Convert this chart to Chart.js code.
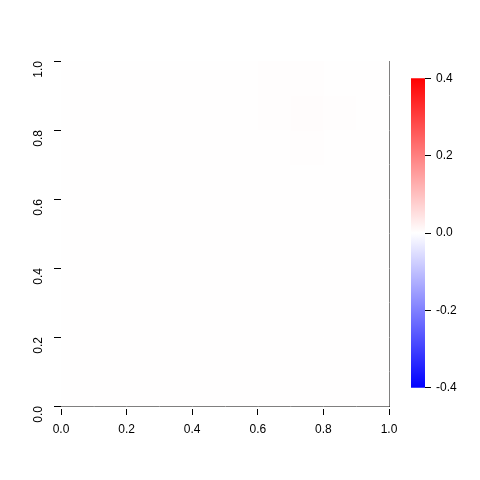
<!DOCTYPE html>
<html>
<head>
<meta charset="utf-8">
<script src="https://cdn.jsdelivr.net/npm/chart.js@4"></script>
<style>
  body { margin: 0; background: #fff; }
  #wrap { position: relative; width: 480px; height: 480px; }
  #main { position: absolute; left: 0; top: 0; }
  #bar { position: absolute; left: 405px; top: 66px; }
</style>
</head>
<body>
<div id="wrap">
  <canvas id="main" width="480" height="480"></canvas>
  <canvas id="bar" width="70" height="334"></canvas>
</div>
<script>
// grid cell centres
const xCenters = [0.05, 0.15, 0.25, 0.35, 0.45, 0.55, 0.65, 0.75, 0.85, 0.95];
const yCenters = [0.05, 0.15, 0.25, 0.35, 0.45, 0.55, 0.65, 0.75, 0.85, 0.95];
// values, row 0 = bottom (y = 0.05)
const zValues = [
  [0.002, 0.002, 0.002, 0.002, 0.002, 0.002, 0.002, 0.002, 0.002, 0.002],
  [0.002, 0.002, 0.002, 0.002, 0.002, 0.002, 0.002, 0.002, 0.002, 0.002],
  [0.002, 0.002, 0.002, 0.002, 0.002, 0.002, 0.002, 0.002, 0.002, 0.002],
  [0.002, 0.002, 0.002, 0.002, 0.002, 0.002, 0.002, 0.002, 0.002, 0.002],
  [0.002, 0.002, 0.002, 0.002, 0.002, 0.002, 0.002, 0.002, 0.002, 0.002],
  [0.002, 0.002, 0.002, 0.002, 0.002, 0.002, 0.002, 0.002, 0.002, 0.002],
  [0.002, 0.002, 0.002, 0.002, 0.002, 0.002, 0.002, 0.002, 0.002, 0.002],
  [0.002, 0.002, 0.002, 0.002, 0.002, 0.002, 0.002, 0.003, 0.002, 0.002],
  [0.002, 0.002, 0.002, 0.002, 0.002, 0.002, 0.003, 0.004, 0.003, 0.002],
  [0.002, 0.002, 0.002, 0.002, 0.002, 0.002, 0.003, 0.003, 0.002, 0.002]
];
const xTicks = [0, 0.2, 0.4, 0.6, 0.8, 1.0];
const yTicks = [0, 0.2, 0.4, 0.6, 0.8, 1.0];
const zRange = [-0.4, 0.4];
const zTicks = [-0.4, -0.2, 0.0, 0.2, 0.4];

const cellW = 0.1, cellH = 0.1;

function zColor(v) {
  const t = Math.max(-1, Math.min(1, v / zRange[1]));
  if (t >= 0) {
    const c = Math.round(255 * (1 - t));
    return 'rgb(255,' + c + ',' + c + ')';
  }
  const c = Math.round(255 * (1 + t));
  return 'rgb(' + c + ',' + c + ',255)';
}

Chart.defaults.font.family = '"Liberation Sans", Arial, sans-serif';
Chart.defaults.font.size = 12;
Chart.defaults.color = '#000';

const cellPlugin = {
  id: 'cells',
  beforeDatasetsDraw(chart) {
    const ctx = chart.ctx;
    const xs = chart.scales.x, ys = chart.scales.y;
    zValues.forEach((row, j) => {
      row.forEach((v, i) => {
        const x0 = xs.getPixelForValue(xCenters[i] - cellW / 2);
        const x1 = xs.getPixelForValue(xCenters[i] + cellW / 2);
        const y0 = ys.getPixelForValue(yCenters[j] + cellH / 2);
        const y1 = ys.getPixelForValue(yCenters[j] - cellH / 2);
        ctx.fillStyle = zColor(v);
        ctx.fillRect(x0, y0, x1 - x0 + 0.5, y1 - y0 + 0.5);
      });
    });
  }
};

const fmt = v => Number(v).toFixed(1);

new Chart(document.getElementById('main'), {
  type: 'scatter',
  data: { datasets: [{ data: [] }] },
  options: {
    responsive: false,
    animation: false,
    layout: { padding: { left: 0, right: 91, top: 61, bottom: 0 } },
    plugins: { legend: { display: false }, tooltip: { enabled: false } },
    scales: {
      x: {
        type: 'linear', min: 0, max: 1,
        afterBuildTicks: s => { s.ticks = xTicks.map(v => ({ value: v })); },
        afterFit: s => { s.height = 74; },
        ticks: { callback: fmt, padding: 7, maxRotation: 0 },
        grid: { drawOnChartArea: false, tickLength: 9, tickBorderDash: [0, 2, 7, 50], color: '#000' },
        border: { display: true, color: '#000' }
      },
      y: {
        type: 'linear', min: 0, max: 1,
        afterBuildTicks: s => { s.ticks = yTicks.map(v => ({ value: v })); },
        afterFit: s => { s.width = 61; },
        ticks: { callback: fmt, padding: 12, minRotation: 90, maxRotation: 90 },
        grid: { drawOnChartArea: false, tickLength: 10, tickBorderDash: [0, 3, 7, 50], color: '#000' },
        border: { display: false }
      },
      y2: {
        type: 'linear', position: 'right', min: 0, max: 1,
        afterFit: s => { s.width = 0; },
        ticks: { display: false },
        grid: { display: false },
        border: { display: true, color: '#000' }
      }
    }
  },
  plugins: [cellPlugin]
});

new Chart(document.getElementById('bar'), {
  type: 'bar',
  data: {
    labels: [''],
    datasets: [{
      data: [zRange],
      barPercentage: 1,
      categoryPercentage: 1,
      backgroundColor: c => {
        const area = c.chart.chartArea;
        if (!area) return '#fff';
        const g = c.chart.ctx.createLinearGradient(0, area.bottom, 0, area.top);
        g.addColorStop(0, 'rgb(0,0,255)');
        g.addColorStop(0.5, 'rgb(255,255,255)');
        g.addColorStop(1, 'rgb(255,0,0)');
        return g;
      }
    }]
  },
  options: {
    responsive: false,
    animation: false,
    layout: { padding: { left: 6, right: 0, top: 10, bottom: 11 } },
    plugins: { legend: { display: false }, tooltip: { enabled: false } },
    scales: {
      x: { display: false },
      y: {
        position: 'right', min: zRange[0], max: zRange[1],
        afterBuildTicks: s => { s.ticks = zTicks.map(v => ({ value: v })); },
        afterFit: s => { s.width = 50; },
        ticks: { callback: fmt, padding: 5 },
        grid: { drawOnChartArea: false, tickLength: 6, color: '#000' },
        border: { display: false }
      }
    }
  }
});
</script>
</body>
</html>
